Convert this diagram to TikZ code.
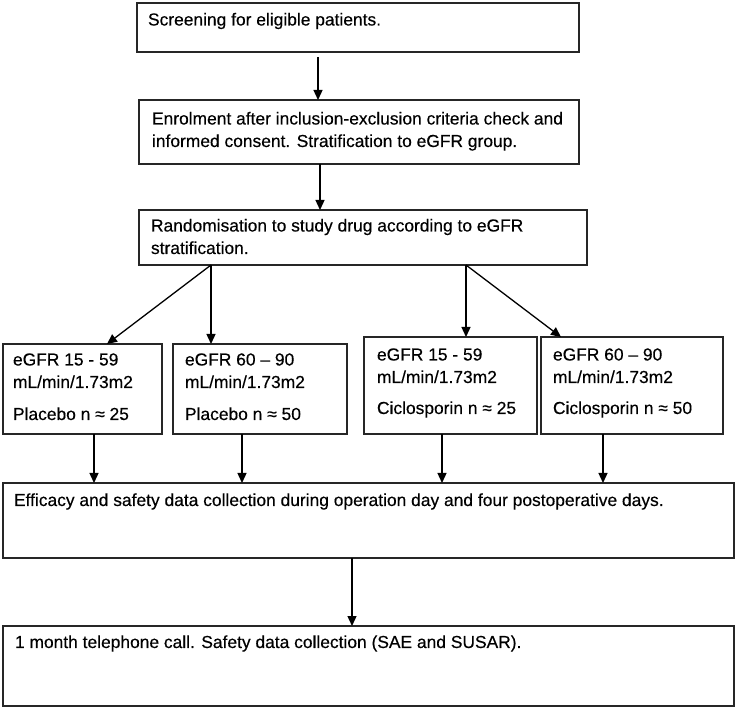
\documentclass[tikz,border=0pt]{standalone}
\usepackage{fontspec}
\setmainfont[FakeBold=0.35]{Liberation Sans}
\usetikzlibrary{arrows.meta}
\begin{document}
\begin{tikzpicture}[x=1pt,y=-1pt,
  box/.style={draw=black!85, line width=1.1pt, rectangle, inner sep=0pt, outer sep=0pt},
  txt/.style={inner sep=0pt, outer sep=0pt, align=left, anchor=base west, font=\fontsize{17.4pt}{22.5pt}\selectfont},
  arr/.style={draw=black, line width=1.3pt, -{Triangle[length=10pt,width=9pt]}}]
\useasboundingbox (0,0) rectangle (737,708);
% boxes
\node[box, minimum width=442pt, minimum height=49pt] (b1) at (358,27.5) {};
\node[box, minimum width=440pt, minimum height=64pt] (b2) at (359,132) {};
\node[box, minimum width=448pt, minimum height=55pt] (b3) at (363,237.5) {};
\node[box, minimum width=159pt, minimum height=90pt] (b4) at (82.5,389) {};
\node[box, minimum width=174pt, minimum height=90pt] (b5) at (260,389) {};
\node[box, minimum width=173pt, minimum height=97pt] (b6) at (450.5,385.5) {};
\node[box, minimum width=182pt, minimum height=97pt] (b7) at (632,385.5) {};
\node[box, minimum width=731pt, minimum height=75pt] (b8) at (368.5,520.5) {};
\node[box, minimum width=731pt, minimum height=80pt] (b9) at (368.5,666) {};
% texts (base anchor = baseline of the last line)
\node[txt] (t1) at (148,25.5) {Screening for eligible patients.};
\node[txt] (t2) at (152,147) {Enrolment after inclusion-exclusion criteria check and\\informed consent. Stratification to eGFR group.};
\node[txt] (t3) at (151,254) {Randomisation to study drug according to eGFR\\stratification.};
\node[txt] (t4a) at (13,388) {eGFR 15 - 59\\mL/min/1.73m2};
\node[txt] (t4b) at (13,420) {Placebo n ≈ 25};
\node[txt] (t5a) at (185,388) {eGFR 60 – 90\\mL/min/1.73m2};
\node[txt] (t5b) at (185,420) {Placebo n ≈ 50};
\node[txt] (t6a) at (377,383) {eGFR 15 - 59\\mL/min/1.73m2};
\node[txt] (t6b) at (377,414) {Ciclosporin n ≈ 25};
\node[txt] (t7a) at (553,383) {eGFR 60 – 90\\mL/min/1.73m2};
\node[txt] (t7b) at (553,414) {Ciclosporin n ≈ 50};
\node[txt] (t8) at (14,506) {Efficacy and safety data collection during operation day and four postoperative days.};
\node[txt] (t9) at (15,648) {1 month telephone call. Safety data collection (SAE and SUSAR).};
% arrows
\draw[arr] ([xshift=-40pt,yshift=-5pt]b1.south) -- ([xshift=-40pt]b1.south |- b2.north);
\draw[arr] ([xshift=-39pt]b2.south) -- ([xshift=-39pt]b2.south |- b3.north);
\draw[arr] ([xshift=-152pt]b3.south) -- ([xshift=24.5pt]b4.north);
\draw[arr] ([xshift=-152pt]b3.south) -- ([xshift=-152pt]b3.south |- b5.north);
\draw[arr] ([xshift=103pt]b3.south) -- ([xshift=103pt]b3.south |- b6.north);
\draw[arr] ([xshift=103pt]b3.south) -- ([xshift=-71pt]b7.north);
\draw[arr] ([xshift=11.5pt]b4.south) -- ([xshift=11.5pt]b4.south |- b8.north);
\draw[arr] ([xshift=-18pt]b5.south) -- ([xshift=-18pt]b5.south |- b8.north);
\draw[arr] ([xshift=-8.5pt]b6.south) -- ([xshift=-8.5pt]b6.south |- b8.north);
\draw[arr] ([xshift=-29pt]b7.south) -- ([xshift=-29pt]b7.south |- b8.north);
\draw[arr] ([xshift=-16.5pt]b8.south) -- ([xshift=-16.5pt]b8.south |- b9.north);
\end{tikzpicture}
\end{document}
